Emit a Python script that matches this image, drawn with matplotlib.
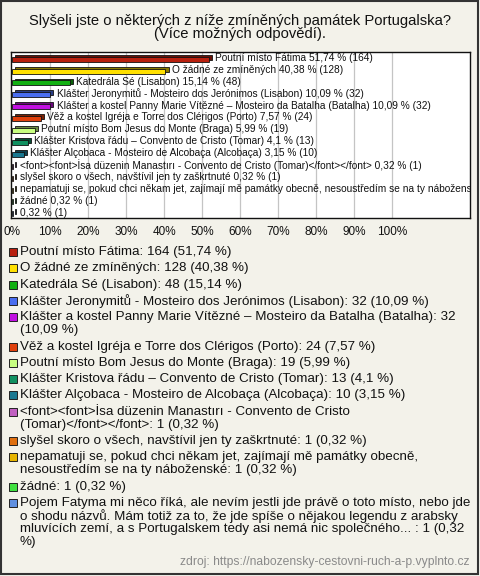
# -*- coding: utf-8 -*-
import matplotlib
matplotlib.use("Agg")
import matplotlib.pyplot as plt
from matplotlib.patches import Rectangle
from matplotlib.colors import to_rgb

plt.rcParams['font.family'] = ['Liberation Sans', 'DejaVu Sans']

title = ["Slyšeli jste o některých z níže zmíněných památek Portugalska?",
         "(Více možných odpovědí)."]

names = [
    "Poutní místo Fátima",
    "O žádné ze zmíněných",
    "Katedrála Sé (Lisabon)",
    "Klášter Jeronymitů - Mosteiro dos Jerónimos (Lisabon)",
    "Klášter a kostel Panny Marie Vítězné – Mosteiro da Batalha (Batalha)",
    "Věž a kostel Igréja e Torre dos Clérigos (Porto)",
    "Poutní místo Bom Jesus do Monte (Braga)",
    "Klášter Kristova řádu – Convento de Cristo (Tomar)",
    "Klášter Alçobaca - Mosteiro de Alcobaça (Alcobaça)",
    "<font><font>İsa düzenin Manastırı - Convento de Cristo (Tomar)</font></font>",
    "slyšel skoro o všech, navštívil jen ty zaškrtnuté",
    "nepamatuji se, pokud chci někam jet, zajímají mě památky obecně, nesoustředím se na ty náboženské",
    "žádné",
    "Pojem Fatyma mi něco říká, ale nevím jestli jde právě o toto místo, nebo jde o shodu názvů. Mám totiž za to, že jde spíše o nějakou legendu z arabsky mluvících zemí, a s Portugalskem tedy asi nemá nic společného... ",
]
# the chart shows no name for the last answer
bar_names = names[:-1] + [""]
counts = [164, 128, 48, 32, 32, 24, 19, 13, 10, 1, 1, 1, 1, 1]
percents = [51.74, 40.38, 15.14, 10.09, 10.09, 7.57, 5.99, 4.1, 3.15,
            0.32, 0.32, 0.32, 0.32, 0.32]
colors = ["#b8200e", "#ffe000", "#12b012", "#4a6ef0", "#c010e0", "#e0400c",
          "#c8ff80", "#109060", "#1a7890", "#c060c0", "#e07010", "#e6b400",
          "#40e040", "#6090e0"]

# line breaks of the legend as in the original
legend_breaks = {
    4: ["Klášter a kostel Panny Marie Vítězné – Mosteiro da Batalha (Batalha): 32",
        "(10,09 %)"],
    9: ["<font><font>İsa düzenin Manastırı - Convento de Cristo",
        "(Tomar)</font></font>: 1 (0,32 %)"],
    11: ["nepamatuji se, pokud chci někam jet, zajímají mě památky obecně,",
         "nesoustředím se na ty náboženské: 1 (0,32 %)"],
    13: ["Pojem Fatyma mi něco říká, ale nevím jestli jde právě o toto místo, nebo jde",
         "o shodu názvů. Mám totiž za to, že jde spíše o nějakou legendu z arabsky",
         "mluvících zemí, a s Portugalskem tedy asi nemá nic společného... : 1 (0,32",
         "%)"],
}

W, H = 480, 576
BG = "#f3f2ea"


def fx(x):
    return x / W


def fy(y):
    return 1 - y / H


def fmt(v):
    return ("%g" % v).replace(".", ",")


fig = plt.figure(figsize=(4.8, 5.76), dpi=100, facecolor=BG)

for i, line in enumerate(title):
    fig.text(0.5, fy(21 + 13 * i), line, ha="center", va="center",
             fontsize=10.6, color="#111111")

ax = fig.add_axes([fx(11), fy(218), fx(470 - 11), (218 - 52) / H])
ax.set_facecolor("white")
n = len(counts)
ypos = list(range(n))
dx, dy = 0.8, 0.16
dark = [tuple(c * 0.55 for c in to_rgb(col)) for col in colors]
ax.barh([y - dy for y in ypos], percents, height=0.42, left=dx, color=dark,
        edgecolor="#111111", linewidth=0.6, zorder=2)
ax.barh(ypos, percents, height=0.42, color=colors, edgecolor="#111111",
        linewidth=0.6, zorder=3)
for y, name, p, c in zip(ypos, bar_names, percents, counts):
    lab = ("%s %s %% (%d)" % (name, fmt(p), c)).strip()
    ax.text(p + 1.7, y - 0.1, lab, va="center", ha="left", fontsize=7.3,
            color="#111111", clip_on=True, zorder=4)

ax.set_xlim(-0.26, 120.5)
ax.set_ylim(13.35, -0.6)
ax.set_yticks([])
ax.set_xticks(range(0, 101, 10))
ax.set_xticklabels(["%d%%" % t for t in range(0, 101, 10)], fontsize=8.5,
                   color="#111111")
ax.tick_params(axis="x", length=0, pad=6)
for t in range(10, 101, 10):
    ax.axvline(t, color="#c4c4c4", linewidth=0.9, zorder=1)
for s in ax.spines.values():
    s.set_color("#111111")
    s.set_linewidth(1.0)

# legend
y = 252
for i, (name, p, c, col) in enumerate(zip(names, percents, counts, colors)):
    lines = legend_breaks.get(i, ["%s: %d (%s %%)" % (name, c, fmt(p))])
    fig.patches.append(Rectangle((fx(9), fy(y + 4)), fx(8), 8 / H,
                                 transform=fig.transFigure, facecolor=col,
                                 edgecolor="#222222", linewidth=0.7))
    for line in lines:
        fig.text(fx(20), fy(y), line, ha="left", va="center", fontsize=9.6,
                 color="#111111")
        y += 13
    y += 3.3

fig.text(fx(470), fy(562), "zdroj: https://nabozensky-cestovni-ruch-a-p.vyplnto.cz",
         ha="right", va="center", fontsize=8.7, color="#8a8a8a")

fig.patches.append(Rectangle((fx(1), fy(574)), fx(477), 573 / H,
                             transform=fig.transFigure, fill=False,
                             edgecolor="#333333", linewidth=1.5))

fig.savefig("out.png", dpi=100, facecolor=BG)
